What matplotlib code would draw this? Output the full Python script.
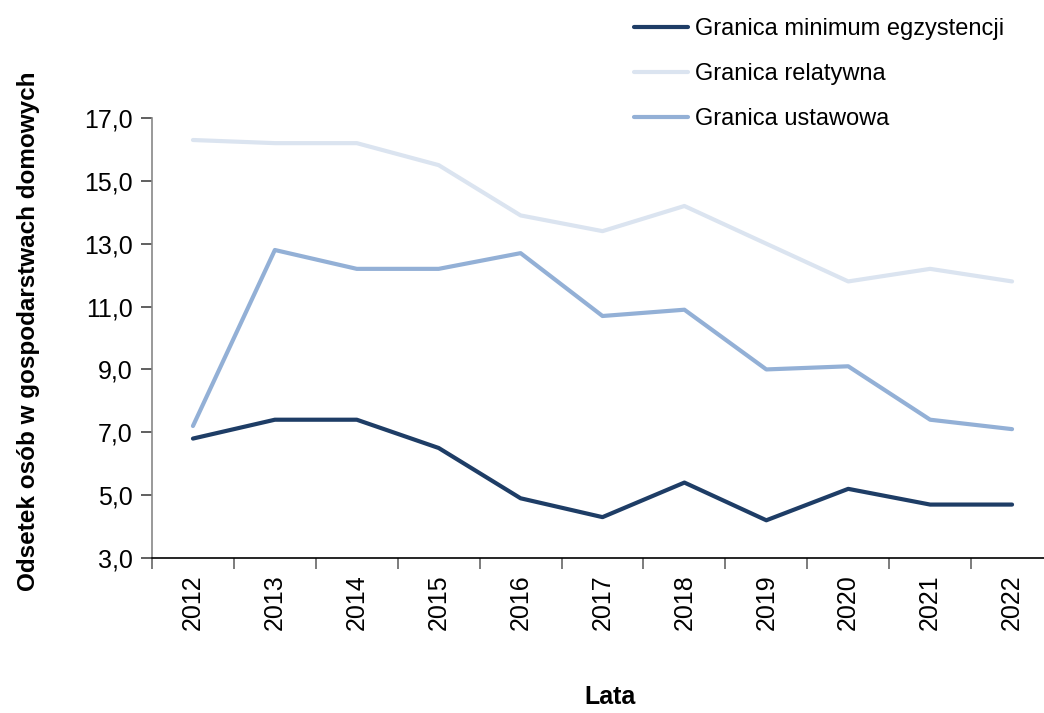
import matplotlib
matplotlib.use("Agg")
import matplotlib.pyplot as plt
from matplotlib.ticker import FuncFormatter, FixedLocator
import numpy as np

# dane
lata = ['2012', '2013', '2014', '2015', '2016', '2017', '2018', '2019', '2020', '2021', '2022']
minimum = [6.8, 7.4, 7.4, 6.5, 4.9, 4.3, 5.4, 4.2, 5.2, 4.7, 4.7]
relatywna = [16.3, 16.2, 16.2, 15.5, 13.9, 13.4, 14.2, 13.0, 11.8, 12.2, 11.8]
ustawowa = [7.2, 12.8, 12.2, 12.2, 12.7, 10.7, 10.9, 9.0, 9.1, 7.4, 7.1]

nazwy = ['Granica minimum egzystencji', 'Granica relatywna', 'Granica ustawowa']
kolory = ['#1e3d66', '#dbe4f0', '#93b0d6']

plt.rcParams['font.family'] = ['Liberation Sans', 'DejaVu Sans']

fig = plt.figure(figsize=(10.44, 7.13), dpi=100)
ax = fig.add_axes([152/1044, 1 - 558/713, 1 - 152/1044, 440/713])

x = np.arange(len(lata))
for seria, nazwa, kol in zip([minimum, relatywna, ustawowa], nazwy, kolory):
    ax.plot(x, seria, color=kol, lw=3, label=nazwa, solid_capstyle='round')

ax.set_ylim(3, 17)
ax.set_yticks(np.arange(3, 18, 2))
ax.yaxis.set_major_formatter(FuncFormatter(lambda v, p: f'{v:.1f}'.replace('.', ',')))
ax.set_xlim(-0.5, 10.39)
ax.set_xticks(x)
ax.set_xticklabels(lata, rotation=90)
ax.xaxis.set_minor_locator(FixedLocator(np.arange(-0.5, 10.6, 1)))
ax.tick_params(axis='x', which='major', length=0, labelsize=18, pad=12)
ax.tick_params(axis='x', which='minor', length=8, width=1.2, color='#666666', direction='out')
ax.tick_params(axis='y', length=8, width=1.2, color='#444444', labelsize=18, pad=6)

for s in ['top', 'right']:
    ax.spines[s].set_visible(False)
ax.spines['left'].set_color('#888888')
ax.spines['left'].set_linewidth(1.2)
ax.spines['bottom'].set_color('black')
ax.spines['bottom'].set_linewidth(1.2)

ax.set_ylabel('Odsetek osób w gospodarstwach domowych', fontsize=17.5, fontweight='bold')
ax.yaxis.set_label_coords(-112/892, 0.515)
fig.text(610/1044, 1 - 697/713, 'Lata', fontsize=18, fontweight='bold',
         ha='center', va='center')

fig.legend(loc='upper left', bbox_to_anchor=(634/1044, 1 - 18/713), frameon=False,
           fontsize=17, handlelength=2.3, handletextpad=0.3, labelspacing=0.98,
           borderpad=0, borderaxespad=0)

fig.savefig('out.png', dpi=100)
